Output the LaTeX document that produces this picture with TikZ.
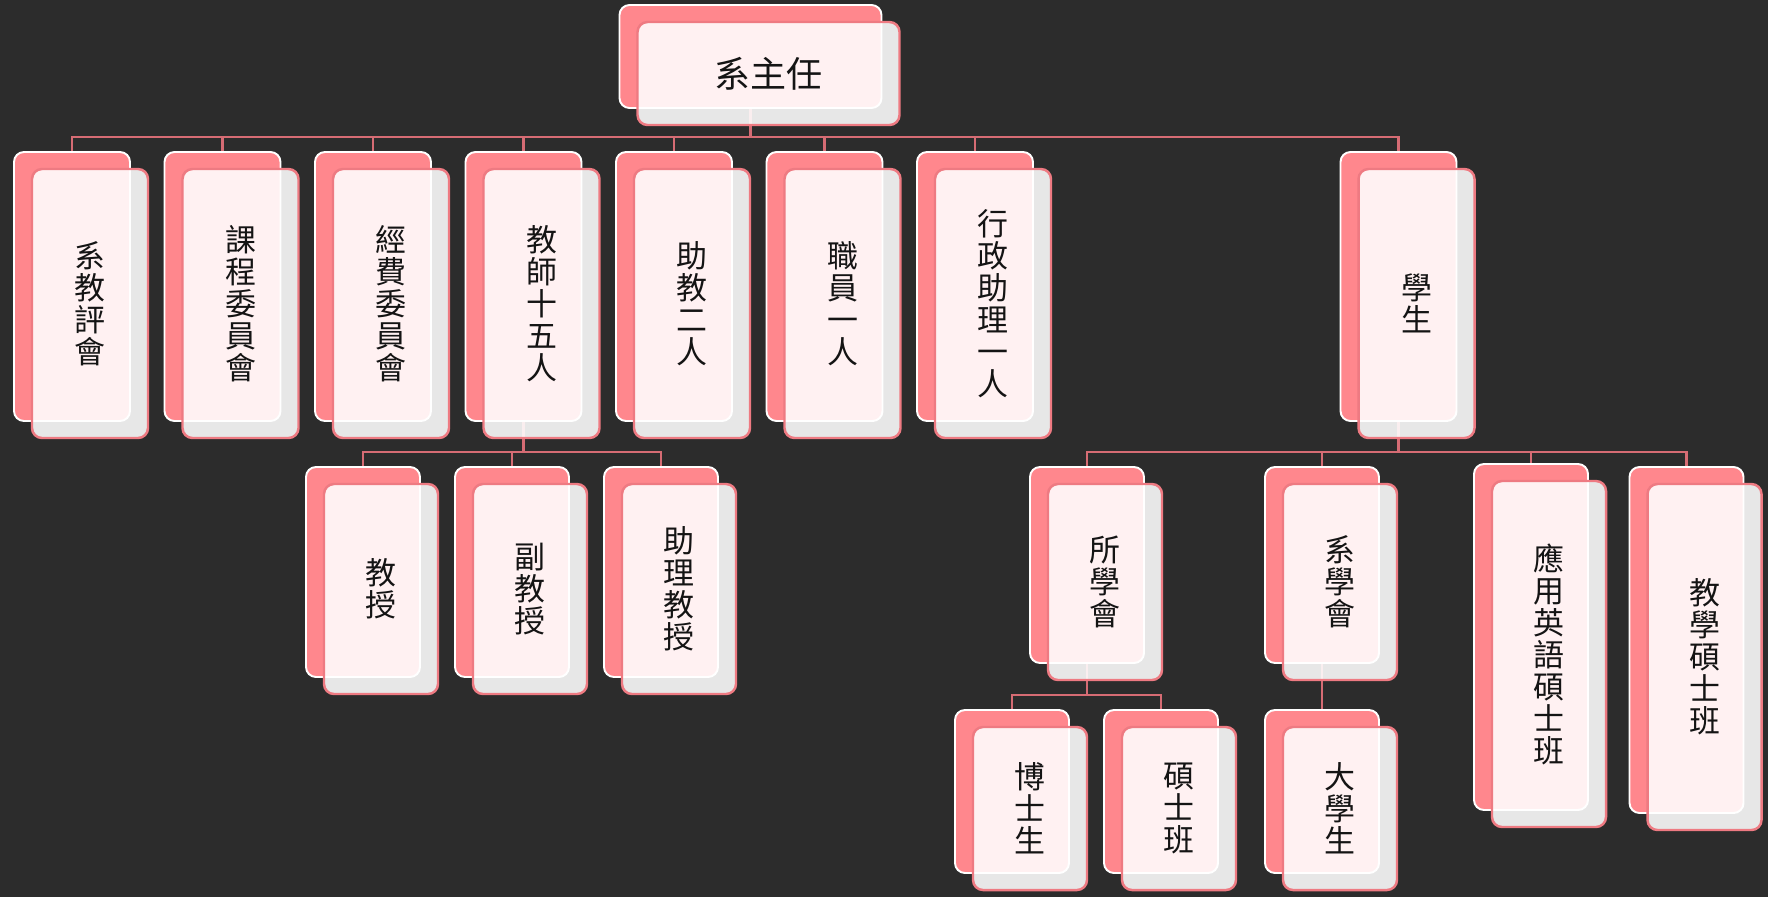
\documentclass[tikz,border=0pt]{standalone}
\usepackage{fontspec}
\newfontfamily\cjk{Noto Sans CJK TC}
\usetikzlibrary{positioning}

\definecolor{board}{RGB}{44,44,44}
\definecolor{pinkback}{RGB}{255,135,141}
\definecolor{pinkline}{RGB}{238,122,130}
\definecolor{wirecol}{RGB}{214,108,116}

\pgfdeclarelayer{board}
\pgfdeclarelayer{wires}
\pgfsetlayers{board,wires,main}

\begin{document}
\begin{tikzpicture}[
    back/.style={rectangle, draw=white, line width=1.1pt, fill=pinkback, rounded corners=0.2cm, minimum width=2.28cm, inner sep=0pt, outer sep=0pt},
    front/.style={rectangle, draw=pinkline, line width=1.4pt, fill=white, fill opacity=0.89, text opacity=1, rounded corners=0.2cm, minimum width=2.28cm, inner sep=0pt, outer sep=0pt, align=center, text=black!92, font=\cjk\fontsize{17.6}{18.2}\selectfont},
    headbox/.style={minimum width=5.24cm, minimum height=2.06cm},
    tallbox/.style={minimum width=2.32cm, minimum height=5.38cm},
    profbox/.style={minimum height=4.2cm},
    clubbox/.style={minimum height=3.92cm},
    progbox/.style={minimum height=6.92cm},
    lowbox/.style={minimum height=3.26cm},
    wire/.style={draw=wirecol, line width=1.35pt}
]

\begin{pgfonlayer}{board}
\fill[board] (0,0) rectangle (35.36,-17.94);
\end{pgfonlayer}
\useasboundingbox (0,0) rectangle (35.36,-17.94);

% Head
\node[back, headbox, anchor=north] (zr) at (15.01,-0.10) {};
\node[front, headbox, font=\cjk\fontsize{20.5}{22}\selectfont] (zr-t) at ([shift={(0.36,-0.34)}]zr.center) {系主任};

% First row
\node[back, tallbox, anchor=north] (xpj) at (1.44,-3.04) {};
\node[front, tallbox] (xpj-t) at ([shift={(0.36,-0.34)}]xpj.center) {系\\教\\評\\會};
\node[back, tallbox, right=0.69cm of xpj] (kcw) {};
\node[front, tallbox] (kcw-t) at ([shift={(0.36,-0.34)}]kcw.center) {課\\程\\委\\員\\會};
\node[back, tallbox, right=0.69cm of kcw] (jfw) {};
\node[front, tallbox] (jfw-t) at ([shift={(0.36,-0.34)}]jfw.center) {經\\費\\委\\員\\會};
\node[back, tallbox, right=0.69cm of jfw] (js) {};
\node[front, tallbox] (js-t) at ([shift={(0.36,-0.34)}]js.center) {教\\師\\十\\五\\人};
\node[back, tallbox, right=0.69cm of js] (zj) {};
\node[front, tallbox] (zj-t) at ([shift={(0.36,-0.34)}]zj.center) {助\\教\\二\\人};
\node[back, tallbox, right=0.69cm of zj] (zy) {};
\node[front, tallbox] (zy-t) at ([shift={(0.36,-0.34)}]zy.center) {職\\員\\一\\人};
\node[back, tallbox, right=0.69cm of zy] (xz) {};
\node[front, tallbox] (xz-t) at ([shift={(0.36,-0.34)}]xz.center) {行\\政\\助\\理\\一\\人};
\node[back, tallbox, right=6.15cm of xz] (xs) {};
\node[front, tallbox] (xs-t) at ([shift={(0.36,-0.34)}]xs.center) {學\\生};

% Teachers
\node[back, profbox, anchor=north] (jsj) at (7.26,-9.34) {};
\node[front, profbox] (jsj-t) at ([shift={(0.36,-0.34)}]jsj.center) {教\\授};
\node[back, profbox, right=0.70cm of jsj] (fjs) {};
\node[front, profbox] (fjs-t) at ([shift={(0.36,-0.34)}]fjs.center) {副\\教\\授};
\node[back, profbox, right=0.70cm of fjs] (zljs) {};
\node[front, profbox] (zljs-t) at ([shift={(0.36,-0.34)}]zljs.center) {助\\理\\教\\授};

% Students
\node[back, clubbox, anchor=north] (sxh) at (21.74,-9.34) {};
\node[front, clubbox] (sxh-t) at ([shift={(0.36,-0.34)}]sxh.center) {所\\學\\會};
\node[back, clubbox, anchor=north] (xxh) at (26.44,-9.34) {};
\node[front, clubbox] (xxh-t) at ([shift={(0.36,-0.34)}]xxh.center) {系\\學\\會};
\node[back, progbox, anchor=north] (yy) at (30.62,-9.28) {};
\node[front, progbox] (yy-t) at ([shift={(0.36,-0.34)}]yy.center) {應\\用\\英\\語\\碩\\士\\班};
\node[back, progbox, anchor=north] (jx) at (33.73,-9.34) {};
\node[front, progbox] (jx-t) at ([shift={(0.36,-0.34)}]jx.center) {教\\學\\碩\\士\\班};

\node[back, lowbox, anchor=north] (bs) at (20.24,-14.2) {};
\node[front, lowbox] (bs-t) at ([shift={(0.36,-0.34)}]bs.center) {博\\士\\生};
\node[back, lowbox, right=0.70cm of bs] (ssb) {};
\node[front, lowbox] (ssb-t) at ([shift={(0.36,-0.34)}]ssb.center) {碩\\士\\班};
\node[back, lowbox, below=0.94cm of xxh] (dxs) {};
\node[front, lowbox] (dxs-t) at ([shift={(0.36,-0.34)}]dxs.center) {大\\學\\生};

% Connectors
\begin{pgfonlayer}{wires}
\coordinate (b0) at ([yshift=-0.58cm]zr.south);
\coordinate (b1) at ([yshift=-0.62cm]js.south);
\coordinate (b2) at ([yshift=-0.62cm]xs.south);
\coordinate (b3) at ([yshift=-0.64cm]sxh.south);

\draw[wire] (zr.south) -- (b0) -| (xpj.north);
\draw[wire] (b0) -| (kcw.north);  \draw[wire] (b0) -| (jfw.north);
\draw[wire] (b0) -| (js.north);   \draw[wire] (b0) -| (zj.north);
\draw[wire] (b0) -| (zy.north);   \draw[wire] (b0) -| (xz.north);
\draw[wire] (b0) -| (xs.north);

\draw[wire] (js.south) -- (b1) -| (jsj.north);
\draw[wire] (b1) -| (fjs.north);  \draw[wire] (b1) -| (zljs.north);

\draw[wire] (xs.south) -- (b2) -| (sxh.north);
\draw[wire] (b2) -| (xxh.north);  \draw[wire] (b2) -| (yy.north);
\draw[wire] (b2) -| (jx.north);

\draw[wire] (sxh.south) -- (b3) -| (bs.north);
\draw[wire] (b3) -| (ssb.north);
\draw[wire] (xxh.south) -- (dxs.north);
\end{pgfonlayer}

\end{tikzpicture}
\end{document}
